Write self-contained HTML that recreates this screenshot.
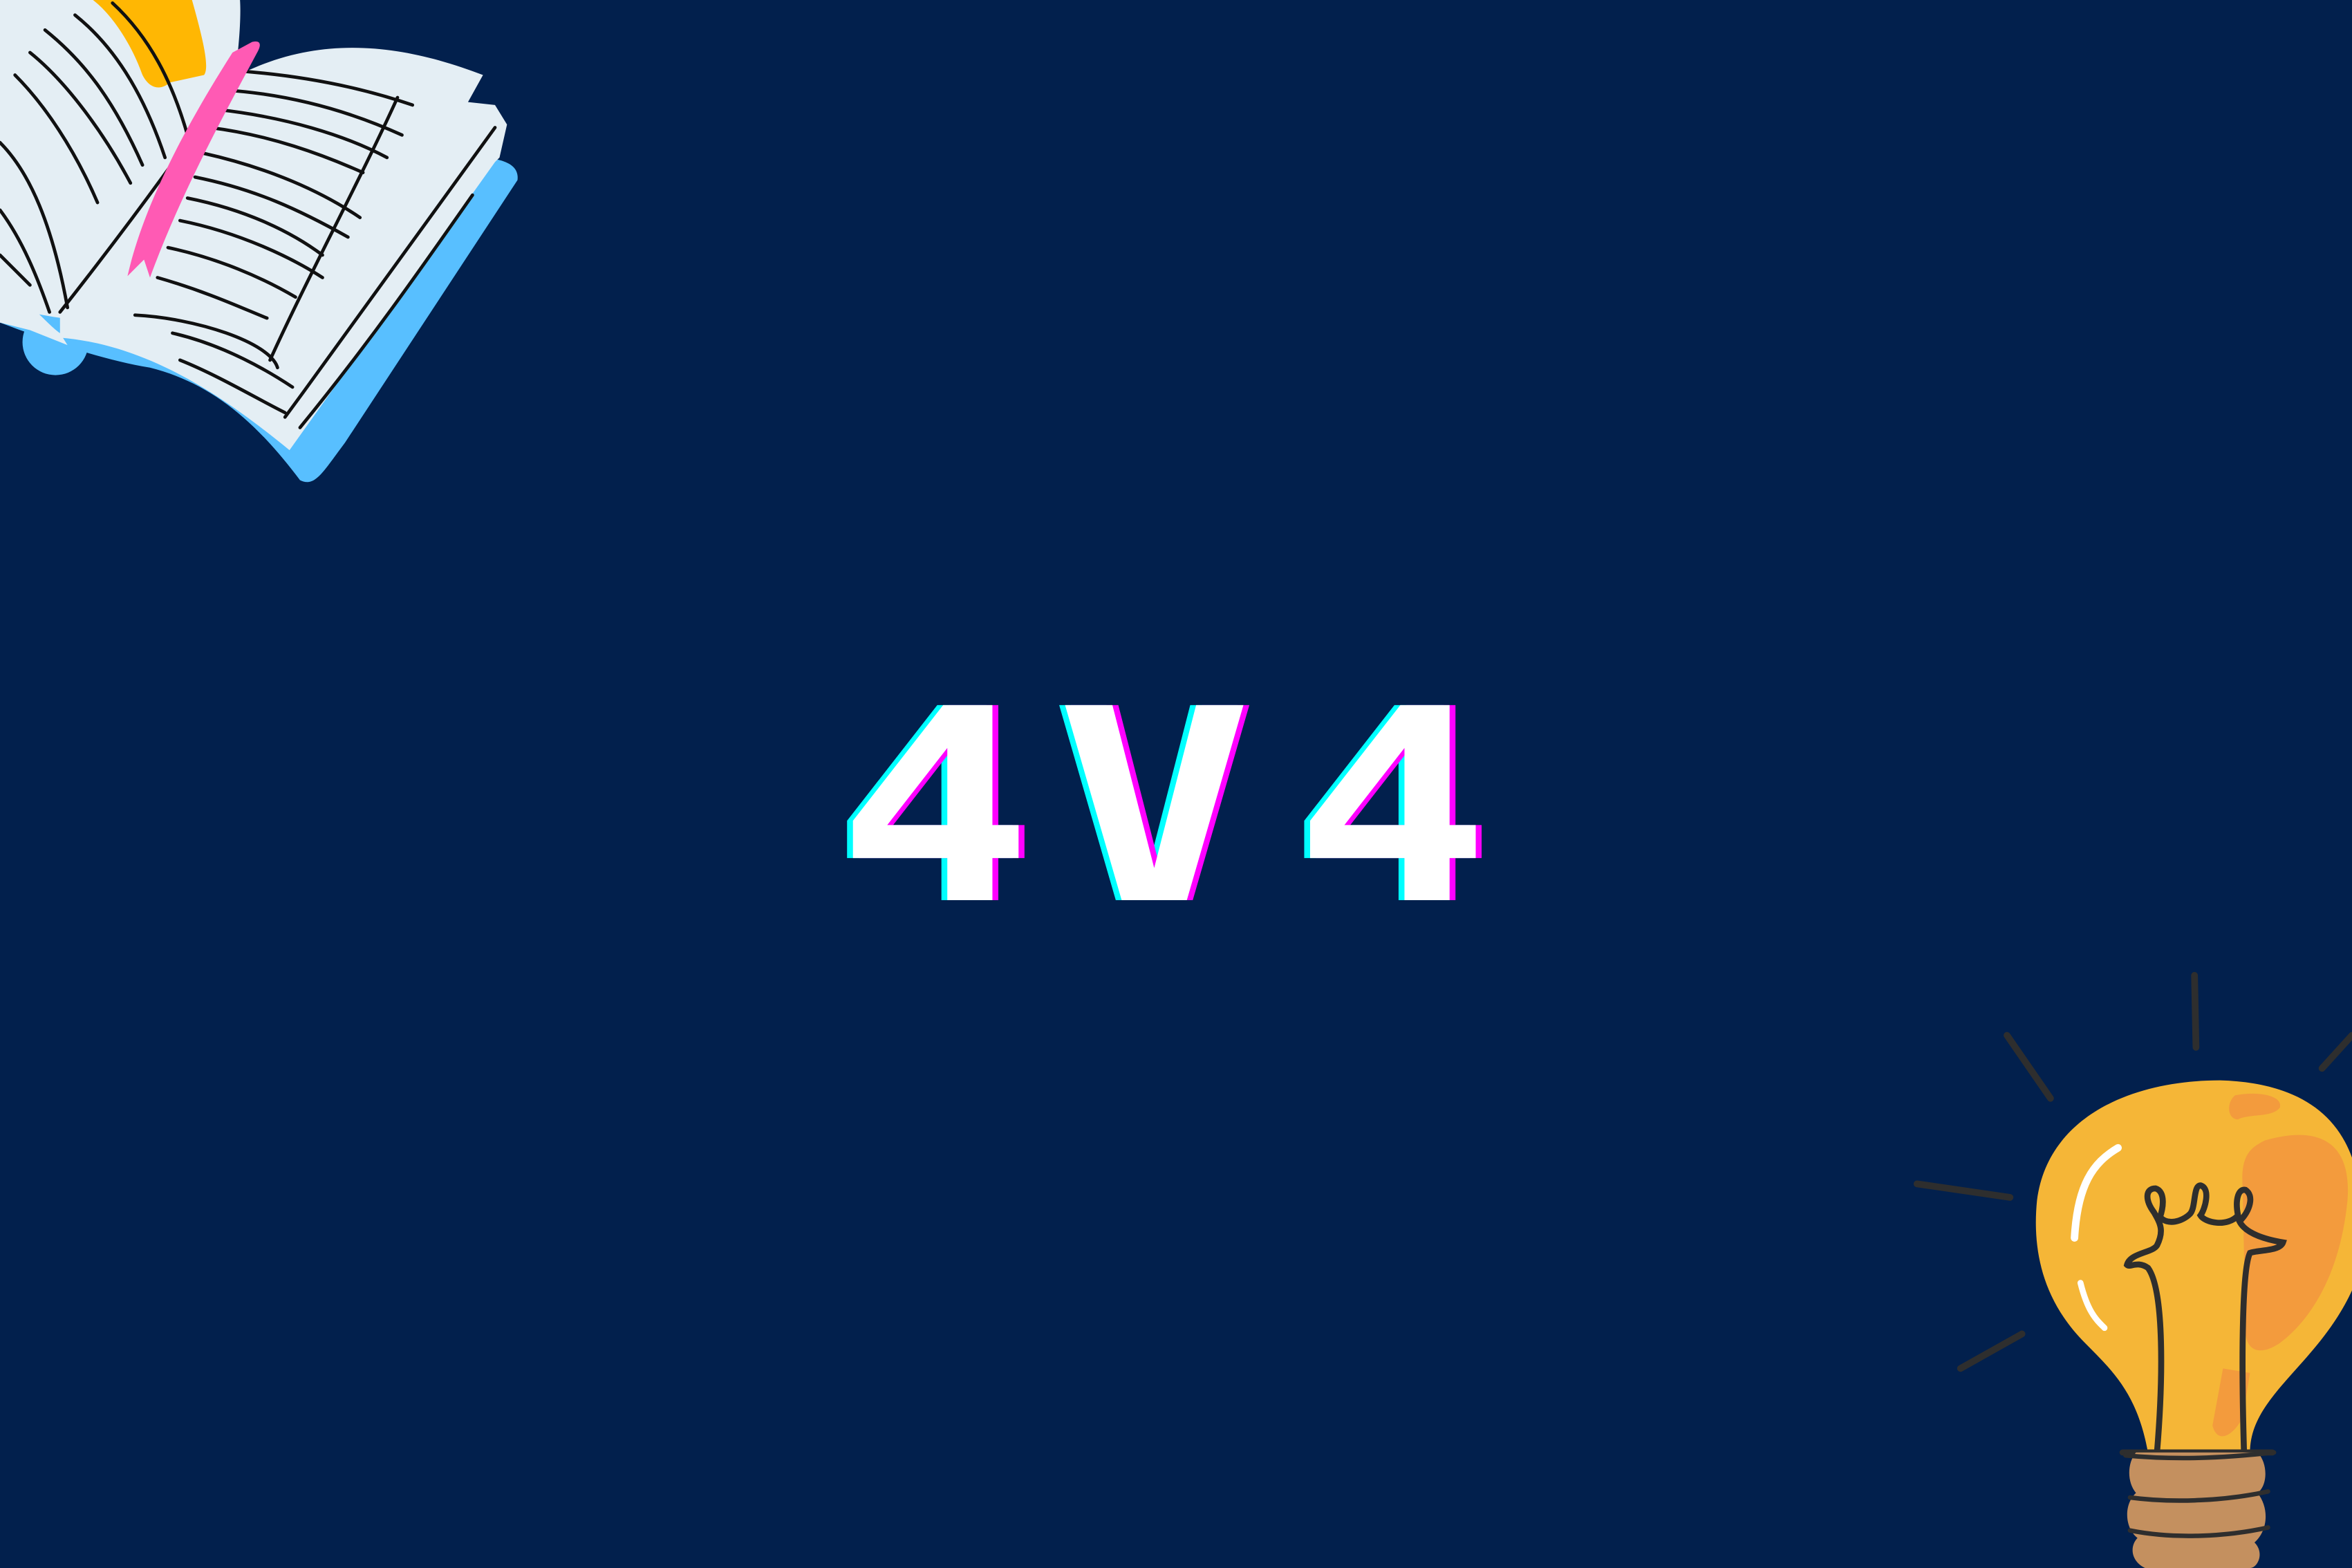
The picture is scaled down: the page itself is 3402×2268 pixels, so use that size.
<!DOCTYPE html>
<html><head><meta charset="utf-8">
<style>
html,body{margin:0;padding:0;background:#02204d;}
#stage{position:relative;width:3402px;height:2268px;overflow:hidden;background:#02204d;}
svg{position:absolute;left:0;top:0;}
</style></head>
<body>
<div id="stage">
<svg width="3402" height="2268" viewBox="0 0 1568 1045" preserveAspectRatio="none">
  <g>
    <path d="M0,200 C40,215 60,225 80,230 C150,245 190,290 200,320 C210,325 215,315 230,295 L345,120 C346,112 340,108 330,106 L320,110 C220,150 130,200 20,215 Z" fill="#58bfff"/>
    <path d="M0,215 C40,230 70,240 100,245 C140,255 170,280 200,320 L210,310 C180,270 140,240 90,230 L0,205 Z" fill="#58bfff"/>
    <circle cx="37" cy="228" r="22" fill="#58bfff"/>
    <path d="M0,0 L160,0 C162,30 150,120 120,180 C80,230 40,210 0,205 Z" fill="#e4eef4"/>
    <path d="M62,0 L128,0 C135,25 140,45 136,50 L113,55 C108,60 100,60 95,50 C88,30 75,10 62,0 Z" fill="#ffb703"/>
    <path d="M40,210 C70,170 120,90 150,55 C210,20 270,30 322,50 L312,68 L330,70 L338,83 L333,105 L330,108 L193,300 C150,265 100,230 40,225 Z" fill="#e4eef4"/>
    <path d="M0,190 C20,200 30,215 40,222 L45,230 L20,220 L0,215 Z" fill="#e4eef4"/>
    <g stroke="#111" stroke-width="2.2" fill="none" stroke-linecap="round">
      <path d="M10,50 C30,70 50,100 65,135"/><path d="M20,35 C45,55 70,90 87,122"/>
      <path d="M30,20 C55,40 75,65 95,110"/><path d="M50,10 C75,30 95,60 110,105"/>
      <path d="M75,2 C100,25 115,55 125,90"/><path d="M0,95 C20,115 35,150 45,205"/>
      <path d="M0,140 C15,160 25,185 33,208"/><path d="M0,170 L20,190"/>
      <path d="M155,47 C200,50 240,58 275,70"/><path d="M150,60 C195,63 235,75 268,90"/>
      <path d="M145,73 C190,78 230,90 258,105"/><path d="M140,85 C180,90 215,103 242,115"/>
      <path d="M135,102 C180,112 215,128 240,145"/><path d="M130,118 C170,126 200,140 232,158"/>
      <path d="M125,132 C165,140 195,155 215,170"/><path d="M120,147 C160,155 195,172 215,185"/>
      <path d="M112,165 C145,172 175,185 197,198"/><path d="M105,185 C140,195 165,207 178,212"/>
      <path d="M90,210 C130,212 180,228 185,245"/><path d="M115,222 C150,230 180,248 195,258"/>
      <path d="M120,240 C145,250 170,265 190,275"/>
      <path d="M265,65 C240,120 205,185 180,240"/><path d="M330,85 C290,140 240,210 190,278"/>
      <path d="M315,130 C280,180 245,230 200,285"/>
      <path d="M40,208 C70,170 100,130 125,95"/>
    </g>
    <path d="M168,28 C172,27 175,28 172,34 C150,75 120,130 100,185 L96,173 L85,184 C95,140 120,90 155,35 Z" fill="#ff5ab4"/>
  </g>
  <g>
    <g stroke="#2e2e2e" stroke-width="4.5" stroke-linecap="round" fill="none">
      <path d="M1463,650 L1464,698"/><path d="M1338,690 L1367,732"/>
      <path d="M1278,789 L1340,798"/><path d="M1307,912 L1348,889"/>
      <path d="M1548,712 L1568,690"/>
    </g>
    <path d="M1480,720 C1550,722 1590,760 1568,860 C1545,910 1500,930 1500,968 L1432,968 C1425,930 1410,915 1390,895 C1360,865 1355,830 1358,800 C1365,745 1420,720 1480,720 Z" fill="#f5b637"/>
    <path d="M1510,760 C1545,750 1568,760 1565,800 C1560,850 1540,880 1520,895 C1505,905 1495,900 1497,880 L1495,790 C1494,770 1500,765 1510,760 Z" fill="#f39b3d"/>
    <path d="M1490,730 C1505,727 1522,730 1520,738 C1515,745 1500,742 1492,746 C1485,746 1484,735 1490,730 Z" fill="#f39b3d"/>
    <path d="M1482,912 L1500,915 L1495,945 C1488,958 1478,962 1475,950 Z" fill="#f39b3d"/>
    <path d="M1412,765 C1395,775 1385,790 1383,825" stroke="#fff" stroke-width="5" stroke-linecap="round" fill="none"/>
    <path d="M1387,855 C1392,875 1398,880 1403,885" stroke="#fff" stroke-width="4" stroke-linecap="round" fill="none"/>
    <g stroke="#2e2e2e" stroke-width="4" fill="none" stroke-linecap="round">
      <path d="M1438,968 C1442,920 1443,860 1432,845 C1425,840 1420,845 1418,843 C1420,835 1435,835 1438,830 C1443,820 1440,815 1436,808 C1430,800 1430,792 1437,792 C1444,794 1442,806 1440,811 C1445,817 1455,814 1460,809 C1464,805 1462,790 1467,790 C1474,792 1470,806 1467,810 C1470,815 1485,818 1492,810 C1490,800 1492,792 1497,793 C1503,797 1500,807 1493,814 C1497,822 1510,826 1522,828 C1520,834 1505,833 1500,835 C1495,845 1494,900 1496,968"/>
      <path d="M1415,968 L1515,968"/>
    </g>
    <path d="M1424,968 L1505,968 C1512,975 1512,990 1505,995 C1513,1005 1512,1020 1503,1028 C1510,1035 1505,1045 1500,1045 L1430,1045 C1420,1040 1420,1030 1425,1025 C1416,1018 1416,1002 1424,995 C1418,988 1418,975 1424,968 Z" fill="#c4905f"/>
    <g stroke="#2e2e2e" stroke-width="3" stroke-linecap="round" fill="none">
      <path d="M1417,970 C1450,973 1480,972 1516,968"/>
      <path d="M1420,998 C1450,1002 1485,1000 1512,994"/>
      <path d="M1420,1020 C1450,1026 1485,1024 1512,1018"/>
    </g>
  </g>
</svg>
<svg width="3402" height="2268" viewBox="0 0 3402 2268">
  <g transform="scale(1.22 1)" font-family="'DejaVu Sans Mono', 'Liberation Mono', monospace" font-weight="bold" font-size="387">
    <text x="1000" y="1302" fill="#00ffff"><tspan x="985">4</tspan><tspan x="1245">V</tspan><tspan x="1527">4</tspan></text>
    <text x="1000" y="1302" fill="#ff00ff"><tspan x="999">4</tspan><tspan x="1259">V</tspan><tspan x="1541">4</tspan></text>
    <text x="1000" y="1302" fill="#ffffff"><tspan x="992">4</tspan><tspan x="1252">V</tspan><tspan x="1534">4</tspan></text>
  </g>
</svg>
</div>
</body></html>
